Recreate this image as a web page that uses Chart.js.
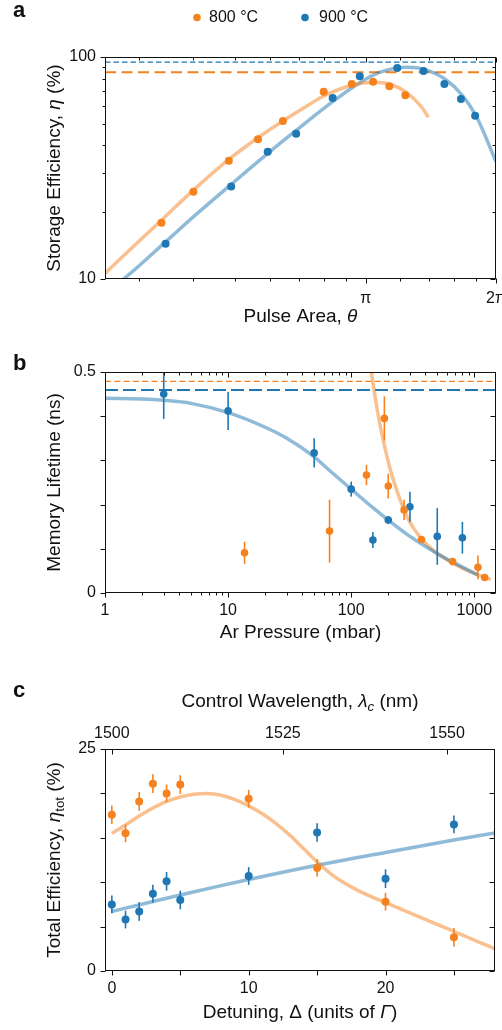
<!DOCTYPE html>
<html>
<head>
<meta charset="utf-8">
<script src="https://cdn.jsdelivr.net/npm/chart.js@4.4.1/dist/chart.umd.min.js"></script>
<style>
  html, body { margin: 0; padding: 0; background: #fff; }
  #fig { position: relative; width: 502px; height: 1030px; overflow: hidden; }
  canvas { position: absolute; left: 0; }
</style>
</head>
<body>
<div id="fig">
  <canvas id="chartA" width="502" height="335" style="top:0px"></canvas>
  <canvas id="chartB" width="502" height="315" style="top:335px"></canvas>
  <canvas id="chartC" width="502" height="380" style="top:650px"></canvas>
</div>
<script>
// --- DATA ---
// panel a: pulse area (units of pi) vs storage efficiency (%)
const aOrangeTheta = [0.3375, 0.40, 0.483, 0.564, 0.644, 0.80, 0.929, 1.04, 1.134, 1.235];
const aOrangeEff   = [17.9, 24.7, 34.1, 42.6, 51.5, 69.8, 75.6, 77.4, 73.8, 67.2];
const aBlueTheta   = [0.345, 0.489, 0.594, 0.691, 0.839, 0.969, 1.183, 1.36, 1.52, 1.66, 1.79];
const aBlueEff     = [14.4, 26.1, 37.4, 45.1, 65.4, 81.9, 89.2, 86.5, 75.6, 64.7, 54.4];
const aOrangeFitTheta = [0.25, 0.2755, 0.3375, 0.4005, 0.483, 0.564, 0.644, 0.727, 0.80, 0.929, 1.04, 1.134, 1.235, 1.345, 1.396];
const aOrangeFitEff   = [10.6, 12.7, 18.4, 25.2, 34.6, 43.3, 51.5, 59.7, 66.7, 74.6, 76.9, 75.6, 69.8, 59.7, 53.5];
const aBlueFitTheta = [0.27, 0.2755, 0.345, 0.4005, 0.486, 0.5945, 0.6875, 0.839, 0.969, 1.072, 1.183, 1.245, 1.367, 1.527, 1.67, 1.80, 2.0];
const aBlueFitEff   = [9.7, 9.97, 14.7, 19.1, 26.4, 36.8, 46.3, 62.9, 76.6, 85.0, 89.2, 89.9, 88.0, 79.4, 67.4, 54.2, 33.8];
const aOrangeLimit = 85.4;
const aBlueLimit = 94.9;
const aXMajor = [1, 2];
const aXMinor = [0.3, 0.4, 0.5, 0.6, 0.7, 0.8, 0.9, 1.2, 1.4, 1.6, 1.8];
const aYMajor = [10, 100];
const aYMinor = [20, 30, 40, 50, 60, 70, 80, 90];

// panel b: Ar pressure (mbar) vs memory lifetime (ns)
const bBluePressure = [3, 10, 50, 100, 150, 200, 300, 500, 800];
const bBlueLife     = [0.450, 0.412, 0.317, 0.235, 0.120, 0.165, 0.195, 0.128, 0.125];
const bBlueErr      = [0.056, 0.043, 0.033, 0.017, 0.018, 0.009, 0.034, 0.064, 0.036];
const bOrangePressure = [13.6, 66.7, 133, 186, 200, 269, 372, 666, 1070, 1213];
const bOrangeLife     = [0.091, 0.140, 0.267, 0.395, 0.242, 0.188, 0.121, 0.071, 0.058, 0.035];
const bOrangeErr      = [0.025, 0.071, 0.023, 0.050, 0.028, 0.023, 0.006, 0.005, 0.027, 0.005];
const bBlueFitPressure = [1, 2, 3, 5, 10, 20, 30, 50, 70, 100, 150, 200, 300, 500, 700, 1000, 1080];
const bBlueFitLife     = [0.4405, 0.439, 0.436, 0.429, 0.408, 0.375, 0.350, 0.308, 0.272, 0.235, 0.193, 0.165, 0.128, 0.089, 0.067, 0.045, 0.041];
const bOrangeFitPressure = [143, 146, 155, 167, 186, 205, 221, 243, 267, 300, 343, 400, 469, 550, 682, 800, 993, 1150, 1360];
const bOrangeFitLife     = [0.525, 0.50, 0.45, 0.397, 0.334, 0.285, 0.254, 0.220, 0.190, 0.160, 0.135, 0.113, 0.096, 0.082, 0.066, 0.056, 0.0445, 0.038, 0.031];
const bOrangeLimit = 0.479;
const bBlueLimit = 0.459;
const bXMajor = [1, 10, 100, 1000];
const bXMinor = [2, 3, 4, 5, 6, 7, 8, 9, 20, 30, 40, 50, 60, 70, 80, 90, 200, 300, 400, 500, 600, 700, 800, 900];
const bYTicks = [0, 0.1, 0.2, 0.3, 0.4, 0.5];
const bYLabels = [0, 0.5];

// panel c: detuning (units of Gamma) vs total efficiency (%)
const cDetuning  = [0, 1, 2, 3, 4, 5, 10, 15, 20, 25];
const cOrangeEff = [17.6, 15.5, 19.1, 21.1, 20.0, 21.0, 19.4, 11.6, 7.8, 3.8];
const cOrangeErr = [1.05, 1.0, 1.05, 1.05, 1.0, 1.05, 1.0, 1.0, 1.0, 1.05];
const cBlueEff   = [7.5, 5.8, 6.7, 8.7, 10.1, 8.0, 10.7, 15.6, 10.4, 16.5];
const cBlueErr   = [1.0, 1.0, 1.05, 1.0, 1.05, 1.05, 1.0, 1.05, 1.05, 1.0];
const cOrangeFitDet = [0, 1, 2, 3, 4, 5, 6, 7, 8, 9, 10, 11, 12, 13, 14, 15, 16, 17, 18, 19, 20, 21, 22, 23, 24, 25, 26, 27, 28];
const cOrangeFitEff = [15.5, 16.45, 17.45, 18.35, 19.1, 19.6, 19.9, 20.0, 19.8, 19.3, 18.6, 17.7, 16.6, 15.3, 13.8, 12.3, 10.95, 9.9, 9.05, 8.35, 7.7, 7.05, 6.4, 5.75, 5.1, 4.45, 3.8, 3.15, 2.5];
const cBlueFitDet = [0, 1, 2, 3, 5, 7.5, 10, 15, 20, 25, 28];
const cBlueFitEff = [6.7, 7.08, 7.45, 7.82, 8.55, 9.45, 10.3, 11.9, 13.35, 14.75, 15.55];
const cXTicks = [0, 5, 10, 15, 20, 25];
const cXLabels = [0, 10, 20];
const cWavelengths = [1500, 1525, 1550];
const cWavelengthAt = [0, 12.5, 24.5];   // detuning where each wavelength tick sits
const cYTicks = [0, 5, 10, 15, 20, 25];
const cYLabels = [0, 25];

// --- STYLE ---
const FONT = '"Liberation Sans", Arial, Helvetica, sans-serif';
const ORANGE = '#f5821f';
const BLUE = '#1f77b4';
const ORANGE_FIT = 'rgba(245,130,32,0.5)';
const BLUE_FIT = 'rgba(31,119,180,0.5)';

Chart.defaults.font.family = FONT;
Chart.defaults.color = '#111';

const pts = (xs, ys) => xs.map((x, i) => ({ x: x, y: ys[i] }));
const flat = (v, lo, hi) => [{ x: lo, y: v }, { x: hi, y: v }];

function fixBox(prop, size) {
    return scale => {
        scale[prop] = size;
        scale.paddingLeft = scale.paddingRight = scale.paddingTop = scale.paddingBottom = 0;
    };
}

function drawRich(ctx, parts, x, y, size, rot, align, baseline) {
    ctx.save();
    ctx.translate(x, y);
    if (rot) ctx.rotate(rot);
    let total = 0;
    const fonts = parts.map(p => {
        const s = p.sub ? size * 0.7 : size;
        const f = (p.i ? 'italic ' : '') + (p.b ? 'bold ' : '') + s + 'px ' + FONT;
        ctx.font = f;
        const w = ctx.measureText(p.t).width;
        total += w;
        return { f, w };
    });
    let cx = align === 'left' ? 0 : -total / 2;
    ctx.textAlign = 'left';
    ctx.textBaseline = baseline || 'middle';
    parts.forEach((p, k) => {
        ctx.font = fonts[k].f;
        ctx.fillStyle = '#111';
        ctx.fillText(p.t, cx, p.sub ? size * 0.3 : 0);
        cx += fonts[k].w;
    });
    ctx.restore();
}

function dot(ctx, x, y, r, color) {
    ctx.save();
    ctx.fillStyle = color;
    ctx.beginPath();
    ctx.arc(x, y, r, 0, Math.PI * 2);
    ctx.fill();
    ctx.restore();
}

// box + matplotlib style ticks on all four sides
const frame = {
    id: 'frame',
    afterDatasetsDraw(chart, args, opts) {
        const { ctx, chartArea: a } = chart;
        ctx.save();
        ctx.strokeStyle = '#111';
        ctx.lineWidth = 1;
        const L = Math.round(a.left) + 0.5, R = Math.round(a.right) - 0.5;
        const T = Math.round(a.top) + 0.5, B = Math.round(a.bottom) - 0.5;
        ctx.strokeRect(L, T, R - L, B - T);
        (opts.marks || []).forEach(m => {
            const sc = chart.scales[m.scale];
            const s = m.dir === 'out' ? 1 : -1;
            m.values.forEach(v => {
                const p = Math.round(sc.getPixelForValue(v)) + 0.5;
                ctx.beginPath();
                if (m.side === 'bottom') { ctx.moveTo(p, B); ctx.lineTo(p, B + s * m.len); }
                if (m.side === 'top') { ctx.moveTo(p, T); ctx.lineTo(p, T - s * m.len); }
                if (m.side === 'left') { ctx.moveTo(L, p); ctx.lineTo(L - s * m.len, p); }
                if (m.side === 'right') { ctx.moveTo(R, p); ctx.lineTo(R + s * m.len, p); }
                ctx.stroke();
            });
        });
        ctx.restore();
    }
};

// vertical error bars, drawn right under their own points
const errorBars = {
    id: 'errorBars',
    beforeDatasetDraw(chart, args) {
        const ds = chart.data.datasets[args.index];
        if (!ds.errors) return;
        const { ctx, chartArea: a } = chart;
        const xs = chart.scales[args.meta.xAxisID], ys = chart.scales[args.meta.yAxisID];
        ctx.save();
        ctx.beginPath();
        ctx.rect(a.left, a.top, a.right - a.left, a.bottom - a.top);
        ctx.clip();
        ctx.strokeStyle = ds.pointBackgroundColor;
        ctx.lineWidth = 1.6;
        ds.data.forEach((pt, k) => {
            const e = ds.errors[k];
            const px = xs.getPixelForValue(pt.x);
            ctx.beginPath();
            ctx.moveTo(px, ys.getPixelForValue(pt.y - e));
            ctx.lineTo(px, ys.getPixelForValue(pt.y + e));
            ctx.stroke();
        });
        ctx.restore();
    }
};

function pointSet(data, color, r, errors) {
    return { data: data, showLine: false, pointRadius: r, pointBackgroundColor: color, pointBorderWidth: 0, errors: errors };
}
function fitSet(data, color) {
    return { data: data, showLine: true, pointRadius: 0, borderColor: color, borderWidth: 3.5, cubicInterpolationMode: 'monotone', clip: 0 };
}
function dashSet(data, color, width, dash) {
    return { data: data, showLine: true, pointRadius: 0, borderColor: color, borderWidth: width, borderDash: dash, clip: 0 };
}
function tickFont() {
    return { size: 16, family: FONT };
}
function baseOptions(padding, scales, marks) {
    return {
        responsive: false,
        animation: false,
        devicePixelRatio: 1,
        events: [],
        layout: { padding: padding },
        plugins: { legend: { display: false }, tooltip: { enabled: false }, frame: { marks: marks } },
        scales: scales
    };
}

// --- PANEL A ---
new Chart(document.getElementById('chartA'), {
    type: 'scatter',
    data: {
        datasets: [
            pointSet(pts(aOrangeTheta, aOrangeEff), ORANGE, 4),
            pointSet(pts(aBlueTheta, aBlueEff), BLUE, 4),
            fitSet(pts(aOrangeFitTheta, aOrangeFitEff), ORANGE_FIT),
            fitSet(pts(aBlueFitTheta, aBlueFitEff), BLUE_FIT),
            dashSet(flat(aOrangeLimit, 0.25, 2), ORANGE, 2, [11, 5.5]),
            dashSet(flat(aBlueLimit, 0.25, 2), BLUE, 1.2, [5.5, 3])
        ]
    },
    options: baseOptions({ top: 57, left: 0, right: 6, bottom: 0 }, {
        x: {
            type: 'logarithmic', min: 0.25, max: 2,
            grid: { display: false, drawTicks: false }, border: { display: false },
            afterBuildTicks: s => { s.ticks = aXMajor.map(v => ({ value: v })); },
            ticks: { callback: v => (v === 1 ? 'π' : v + 'π'), font: tickFont(), padding: 10, maxRotation: 0, autoSkip: false },
            afterFit: fixBox('height', 56)
        },
        y: {
            type: 'logarithmic', min: 10, max: 100,
            grid: { display: false, drawTicks: false }, border: { display: false },
            afterBuildTicks: s => { s.ticks = aYMajor.map(v => ({ value: v })); },
            ticks: { callback: v => String(v), font: tickFont(), padding: 9, autoSkip: false },
            afterFit: fixBox('width', 105)
        }
    }, [
        { scale: 'x', side: 'bottom', values: aXMajor, len: 5, dir: 'out' },
        { scale: 'x', side: 'bottom', values: aXMinor, len: 3, dir: 'out' },
        { scale: 'x', side: 'top', values: aXMajor, len: 5, dir: 'in' },
        { scale: 'x', side: 'top', values: aXMinor, len: 3, dir: 'in' },
        { scale: 'y', side: 'left', values: aYMajor, len: 5, dir: 'out' },
        { scale: 'y', side: 'left', values: aYMinor, len: 3, dir: 'out' },
        { scale: 'y', side: 'right', values: aYMajor, len: 5, dir: 'in' },
        { scale: 'y', side: 'right', values: aYMinor, len: 3, dir: 'in' }
    ]),
    plugins: [frame, errorBars, {
        id: 'textA',
        afterDraw(chart) {
            const { ctx, chartArea: a } = chart;
            drawRich(ctx, [{ t: 'a', b: true }], 13, 17, 22, 0, 'left', 'alphabetic');
            dot(ctx, 197, 17.5, 3.8, ORANGE);
            drawRich(ctx, [{ t: '800 °C' }], 209, 17.5, 16, 0, 'left');
            dot(ctx, 305, 17.5, 3.8, BLUE);
            drawRich(ctx, [{ t: '900 °C' }], 319, 17.5, 16, 0, 'left');
            drawRich(ctx, [{ t: 'Storage Efficiency, ' }, { t: 'η', i: true }, { t: ' (%)' }], 55, (a.top + a.bottom) / 2, 19, -Math.PI / 2);
            drawRich(ctx, [{ t: 'Pulse Area, ' }, { t: 'θ', i: true }], (a.left + a.right) / 2, a.bottom + 38, 19);
        }
    }]
});

// --- PANEL B ---
new Chart(document.getElementById('chartB'), {
    type: 'scatter',
    data: {
        datasets: [
            pointSet(pts(bOrangePressure, bOrangeLife), ORANGE, 3.8, bOrangeErr),
            pointSet(pts(bBluePressure, bBlueLife), BLUE, 3.8, bBlueErr),
            fitSet(pts(bBlueFitPressure, bBlueFitLife), BLUE_FIT),
            fitSet(pts(bOrangeFitPressure, bOrangeFitLife), ORANGE_FIT),
            dashSet(flat(bBlueLimit, 1, 1500), BLUE, 2, [13, 5]),
            dashSet(flat(bOrangeLimit, 1, 1500), ORANGE, 1.2, [6, 3.3])
        ]
    },
    options: baseOptions({ top: 37, left: 0, right: 6, bottom: 0 }, {
        x: {
            type: 'logarithmic', min: 1, max: 1500,
            grid: { display: false, drawTicks: false }, border: { display: false },
            afterBuildTicks: s => { s.ticks = bXMajor.map(v => ({ value: v })); },
            ticks: { callback: v => String(v), font: tickFont(), padding: 8, maxRotation: 0, autoSkip: false },
            afterFit: fixBox('height', 57)
        },
        y: {
            type: 'linear', min: 0, max: 0.5,
            grid: { display: false, drawTicks: false }, border: { display: false },
            afterBuildTicks: s => { s.ticks = bYLabels.map(v => ({ value: v })); },
            ticks: { callback: v => String(v), font: tickFont(), padding: 9, autoSkip: false },
            afterFit: fixBox('width', 105)
        }
    }, [
        { scale: 'x', side: 'bottom', values: bXMajor, len: 5, dir: 'out' },
        { scale: 'x', side: 'bottom', values: bXMinor, len: 3, dir: 'out' },
        { scale: 'x', side: 'top', values: bXMajor, len: 5, dir: 'in' },
        { scale: 'x', side: 'top', values: bXMinor, len: 3, dir: 'in' },
        { scale: 'y', side: 'left', values: bYTicks, len: 5, dir: 'out' },
        { scale: 'y', side: 'right', values: bYTicks, len: 5, dir: 'in' }
    ]),
    plugins: [frame, errorBars, {
        id: 'textB',
        afterDraw(chart) {
            const { ctx, chartArea: a } = chart;
            drawRich(ctx, [{ t: 'b', b: true }], 13, 35, 22, 0, 'left', 'alphabetic');
            drawRich(ctx, [{ t: 'Memory Lifetime (ns)' }], 55, (a.top + a.bottom) / 2, 19, -Math.PI / 2);
            drawRich(ctx, [{ t: 'Ar Pressure (mbar)' }], (a.left + a.right) / 2, a.bottom + 40, 19);
        }
    }]
});

// --- PANEL C ---
new Chart(document.getElementById('chartC'), {
    type: 'scatter',
    data: {
        datasets: [
            pointSet(pts(cDetuning, cOrangeEff), ORANGE, 4, cOrangeErr),
            pointSet(pts(cDetuning, cBlueEff), BLUE, 4, cBlueErr),
            fitSet(pts(cOrangeFitDet, cOrangeFitEff), ORANGE_FIT),
            fitSet(pts(cBlueFitDet, cBlueFitEff), BLUE_FIT)
        ]
    },
    options: baseOptions({ top: 69, left: 0, right: 7, bottom: 0 }, {
        x: {
            type: 'linear', min: -0.5, max: 28,
            grid: { display: false, drawTicks: false }, border: { display: false },
            afterBuildTicks: s => { s.ticks = cXLabels.map(v => ({ value: v })); },
            ticks: { callback: v => String(v), font: tickFont(), padding: 8, maxRotation: 0, autoSkip: false },
            afterFit: fixBox('height', 59)
        },
        x2: {
            type: 'linear', position: 'top', min: -0.5, max: 28,
            grid: { display: false, drawTicks: false }, border: { display: false },
            afterBuildTicks: s => { s.ticks = cWavelengthAt.map(v => ({ value: v })); },
            ticks: { callback: (v, i) => String(cWavelengths[i]), font: tickFont(), padding: 6, maxRotation: 0, autoSkip: false },
            afterFit: fixBox('height', 30)
        },
        y: {
            type: 'linear', min: 0, max: 25,
            grid: { display: false, drawTicks: false }, border: { display: false },
            afterBuildTicks: s => { s.ticks = cYLabels.map(v => ({ value: v })); },
            ticks: { callback: v => String(v), font: tickFont(), padding: 9, autoSkip: false },
            afterFit: fixBox('width', 105)
        }
    }, [
        { scale: 'x', side: 'bottom', values: cXTicks, len: 5, dir: 'out' },
        { scale: 'x2', side: 'top', values: cWavelengthAt, len: 5, dir: 'in' },
        { scale: 'y', side: 'left', values: cYTicks, len: 5, dir: 'out' },
        { scale: 'y', side: 'right', values: cYTicks, len: 5, dir: 'in' }
    ]),
    plugins: [frame, errorBars, {
        id: 'textC',
        afterDraw(chart) {
            const { ctx, chartArea: a } = chart;
            drawRich(ctx, [{ t: 'c', b: true }], 13, 47, 22, 0, 'left', 'alphabetic');
            drawRich(ctx, [{ t: 'Total Efficiency, ' }, { t: 'η', i: true }, { t: 'tot', sub: true }, { t: ' (%)' }], 55, (a.top + a.bottom) / 2, 19, -Math.PI / 2);
            drawRich(ctx, [{ t: 'Control Wavelength, ' }, { t: 'λ', i: true }, { t: 'c', i: true, sub: true }, { t: ' (nm)' }], (a.left + a.right) / 2, a.top - 47, 19);
            drawRich(ctx, [{ t: 'Detuning, Δ (units of ' }, { t: 'Γ', i: true }, { t: ')' }], (a.left + a.right) / 2, a.bottom + 42, 19);
        }
    }]
});
</script>
</body>
</html>
